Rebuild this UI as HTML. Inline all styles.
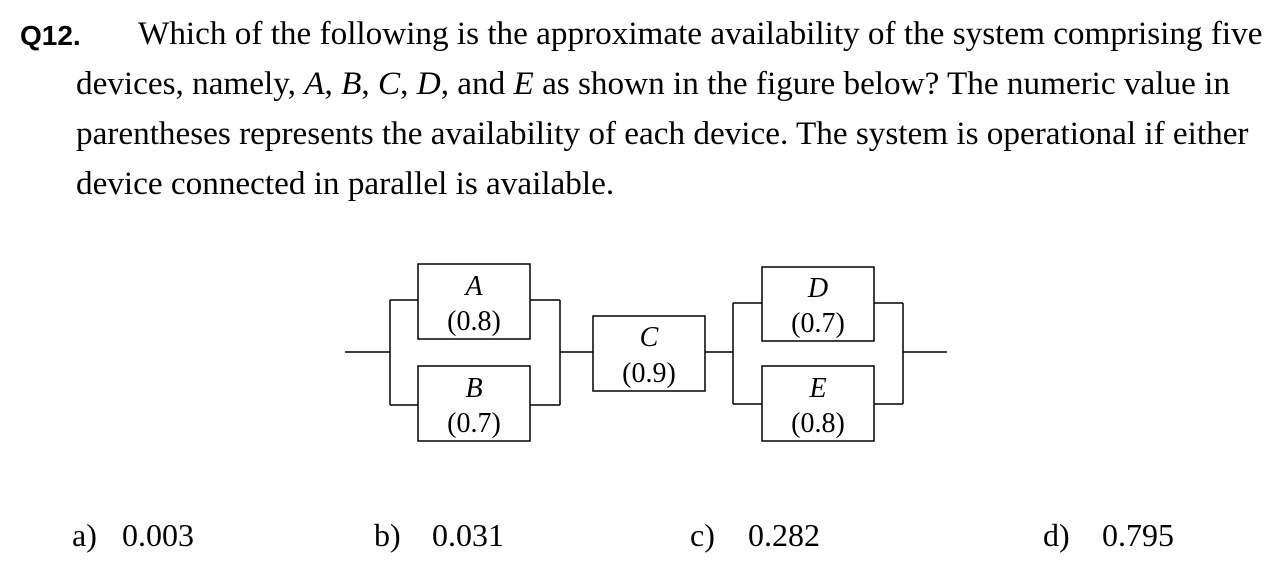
<!DOCTYPE html>
<html><head><style>
body{margin:0;width:1284px;height:571px;background:#fff;position:relative;font-family:"Liberation Serif",serif;color:#000}
.t{position:absolute;font-size:33.2px;white-space:nowrap;line-height:40px}
.q{position:absolute;left:20px;top:20px;font-family:"Liberation Sans",sans-serif;font-weight:bold;font-size:28px}
</style></head><body>
<div class="q">Q12.</div>
<div class="t" style="left:138px;top:14px">Which of the following is the approximate availability of the system comprising five</div>
<div class="t" style="left:76px;top:64px">devices, namely, <i>A</i>, <i>B</i>, <i>C</i>, <i>D</i>, and <i>E</i> as shown in the figure below? The numeric value in</div>
<div class="t" style="left:76px;top:114px">parentheses represents the availability of each device. The system is operational if either</div>
<div class="t" style="left:76px;top:164px">device connected in parallel is available.</div>
<svg width="1284" height="571" style="position:absolute;left:0;top:0" font-family="Liberation Serif,serif" font-size="28">
<g fill="none" stroke="#000" stroke-width="1.5">
<rect x="418" y="264" width="112" height="75"/>
<rect x="418" y="366" width="112" height="75"/>
<rect x="593" y="316" width="112" height="75"/>
<rect x="762" y="267" width="112" height="74"/>
<rect x="762" y="366" width="112" height="75"/>
<path d="M345 352H390M390 300V405M390 300H418M390 405H418M530 300H560M530 405H560M560 300V405M560 352H593"/>
<path d="M705 352H733M733 303V404M733 303H762M733 404H762M874 303H903M874 404H903M903 303V404M903 352H947"/>
</g>
<g text-anchor="middle">
<text x="474" y="295" font-style="italic">A</text><text x="474" y="330">(0.8)</text>
<text x="474" y="397" font-style="italic">B</text><text x="474" y="432">(0.7)</text>
<text x="649" y="346" font-style="italic">C</text><text x="649" y="382">(0.9)</text>
<text x="818" y="297" font-style="italic">D</text><text x="818" y="332">(0.7)</text>
<text x="818" y="397" font-style="italic">E</text><text x="818" y="432">(0.8)</text>
</g>
<g font-size="32">
<text x="72" y="546">a)</text><text x="122" y="546">0.003</text>
<text x="374" y="546">b)</text><text x="432" y="546">0.031</text>
<text x="690" y="546">c)</text><text x="748" y="546">0.282</text>
<text x="1043" y="546">d)</text><text x="1102" y="546">0.795</text>
</g>
</svg>
</body></html>
